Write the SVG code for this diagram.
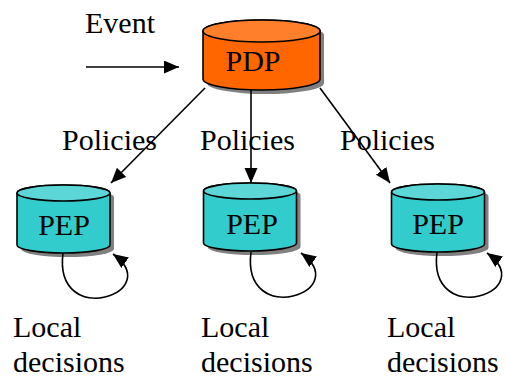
<svg xmlns="http://www.w3.org/2000/svg" width="508" height="378" viewBox="0 0 508 378">
  <style>
    .lbl { font-family: 'Liberation Serif', 'Times New Roman', serif; font-size: 30px; fill: #000; }
    .mid { text-anchor: middle; }
    .edge { fill: none; stroke: #000; stroke-width: 1.6; }
    .shadow { fill: #808080; }
    .outline { stroke: #000; stroke-width: 1.6; }
    .pdp-body { fill: #FF6600; }
    .pdp-top { fill: #FF7F2A; }
    .pep-body { fill: #33CCCC; }
    .pep-top { fill: #5CD6D6; }
  </style>
  <defs>
    <marker id="arrow" markerUnits="userSpaceOnUse" markerWidth="16" markerHeight="14" refX="15" refY="6.5" orient="auto">
      <path d="M0,0 L15,6.5 L0,13 Z" fill="#000"/>
    </marker>
    <!-- PEP cylinder, origin at the centre of the top ellipse -->
    <g id="pep-shape">
      <path class="shadow" d="M-42.5,4 L-42.5,56 A46.5,8 0 0 0 50.5,56 L50.5,4 A46.5,8 0 0 0 -42.5,4 Z"/>
      <path class="pep-body outline" d="M-46.5,0 L-46.5,52 A46.5,8 0 0 0 46.5,52 L46.5,0 A46.5,8 0 0 0 -46.5,0 Z"/>
      <ellipse class="pep-top outline" cx="0" cy="0" rx="46.5" ry="8"/>
    </g>
  </defs>

  <!-- PDP -->
  <g id="pdp">
    <path class="shadow" d="M207,35 L207,83 A58.5,11 0 0 0 324,83 L324,35 A58.5,11 0 0 0 207,35 Z"/>
    <path class="pdp-body outline" d="M203,31 L203,79 A58.5,11 0 0 0 320,79 L320,31 A58.5,11 0 0 0 203,31 Z"/>
    <ellipse class="pdp-top outline" cx="261.5" cy="31" rx="58.5" ry="11"/>
    <text class="lbl mid" x="253" y="71">PDP</text>
  </g>

  <!-- PEPs -->
  <g id="pep1">
    <use href="#pep-shape" x="63.5" y="193"/>
    <text class="lbl mid" x="64" y="235">PEP</text>
  </g>
  <g id="pep2">
    <use href="#pep-shape" x="250" y="191"/>
    <text class="lbl mid" x="252" y="234">PEP</text>
  </g>
  <g id="pep3">
    <use href="#pep-shape" x="438" y="192"/>
    <text class="lbl mid" x="438" y="234">PEP</text>
  </g>

  <!-- Connectors -->
  <g id="connectors">
    <line class="edge" x1="86" y1="67" x2="179" y2="67" marker-end="url(#arrow)"/>
    <line class="edge" x1="205" y1="88" x2="111" y2="183" marker-end="url(#arrow)"/>
    <line class="edge" x1="251" y1="90" x2="251" y2="183" marker-end="url(#arrow)"/>
    <line class="edge" x1="320" y1="88" x2="390" y2="183" marker-end="url(#arrow)"/>
    <path class="edge" d="M63,253 C58,292 85,302 105,297 C128,291 138,272 113,254" marker-end="url(#arrow)"/>
    <path class="edge" d="M251,252 C246,291 273,301 293,296 C316,290 326,271 301,253" marker-end="url(#arrow)"/>
    <path class="edge" d="M437,252 C432,291 459,301 479,296 C502,290 512,271 487,253" marker-end="url(#arrow)"/>
  </g>

  <!-- Labels -->
  <g id="labels">
    <text class="lbl" x="85" y="33">Event</text>
    <text class="lbl" x="62" y="150">Policies</text>
    <text class="lbl" x="200" y="150">Policies</text>
    <text class="lbl" x="340" y="150">Policies</text>
    <text class="lbl" x="13" y="337">Local</text>
    <text class="lbl" x="13" y="372">decisions</text>
    <text class="lbl" x="201" y="337">Local</text>
    <text class="lbl" x="201" y="372">decisions</text>
    <text class="lbl" x="387" y="337">Local</text>
    <text class="lbl" x="387" y="372">decisions</text>
  </g>
</svg>
